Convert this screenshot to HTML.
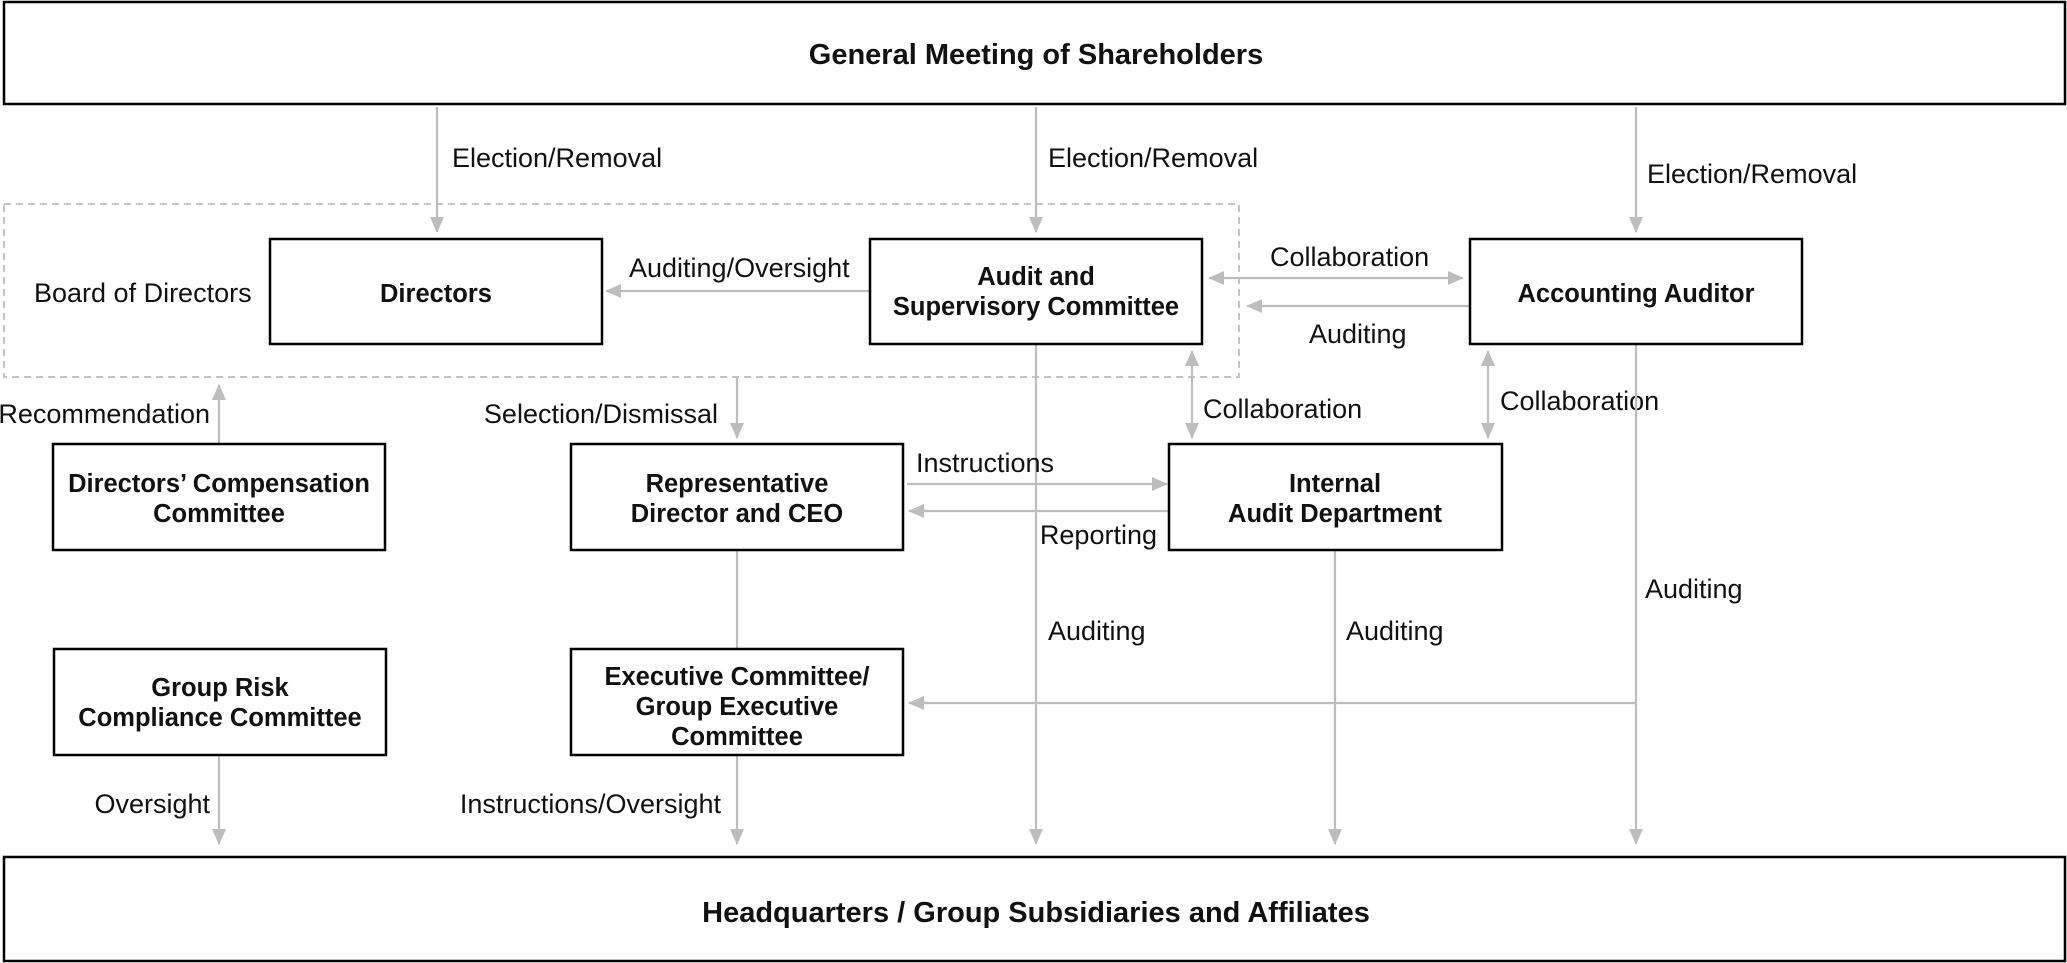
<!DOCTYPE html>
<html><head><meta charset="utf-8"><style>
html,body{margin:0;padding:0;background:#fff;}
svg{display:block;}
text{font-family:"Liberation Sans",Arial,sans-serif;fill:#111;}
.l{font-size:27px;}
.b{font-size:25.5px;font-weight:bold;text-anchor:middle;}
.bb{font-size:29px;font-weight:bold;text-anchor:middle;}
.box{fill:#fff;stroke:#000;stroke-width:2.5;}
.ln{stroke:#bdbdbd;stroke-width:2.2;fill:none;}
</style></head><body>
<svg width="2067" height="963" viewBox="0 0 2067 963" xmlns="http://www.w3.org/2000/svg">
<defs>
<marker id="a" markerUnits="userSpaceOnUse" markerWidth="16" markerHeight="16" viewBox="0 0 16 16" refX="15" refY="8" orient="auto-start-reverse">
<path d="M0,1 L16,8 L0,15 Z" fill="#bdbdbd"/></marker>
</defs>
<rect class="box" x="4" y="2" width="2061" height="102"/>
<text class="bb" x="1036" y="64">General Meeting of Shareholders</text>
<rect class="box" x="4" y="857" width="2061" height="104"/>
<text class="bb" x="1036" y="922">Headquarters / Group Subsidiaries and Affiliates</text>
<rect x="4" y="204" width="1235" height="173" fill="none" stroke="#c4c4c4" stroke-width="2" stroke-dasharray="7,5"/>
<text class="l" x="34" y="302">Board of Directors</text>
<line class="ln" x1="437" y1="107" x2="437" y2="232" marker-end="url(#a)"/>
<text class="l" x="452" y="167">Election/Removal</text>
<line class="ln" x1="1036" y1="107" x2="1036" y2="232" marker-end="url(#a)"/>
<text class="l" x="1048" y="167">Election/Removal</text>
<line class="ln" x1="1636" y1="107" x2="1636" y2="232" marker-end="url(#a)"/>
<text class="l" x="1647" y="183">Election/Removal</text>
<line class="ln" x1="870" y1="291" x2="606" y2="291" marker-end="url(#a)"/>
<text class="l" x="629" y="277">Auditing/Oversight</text>
<line class="ln" x1="1209" y1="278" x2="1463" y2="278" marker-start="url(#a)" marker-end="url(#a)"/>
<text class="l" x="1270" y="266">Collaboration</text>
<line class="ln" x1="1470" y1="306" x2="1247" y2="306" marker-end="url(#a)"/>
<text class="l" x="1309" y="343">Auditing</text>
<line class="ln" x1="1036" y1="344" x2="1036" y2="844" marker-end="url(#a)"/>
<text class="l" x="1048" y="640">Auditing</text>
<line class="ln" x1="1192" y1="351" x2="1192" y2="438" marker-start="url(#a)" marker-end="url(#a)"/>
<text class="l" x="1203" y="418">Collaboration</text>
<line class="ln" x1="1488" y1="351" x2="1488" y2="438" marker-start="url(#a)" marker-end="url(#a)"/>
<text class="l" x="1500" y="410">Collaboration</text>
<line class="ln" x1="1636" y1="344" x2="1636" y2="844" marker-end="url(#a)"/>
<text class="l" x="1645" y="598">Auditing</text>
<line class="ln" x1="1636" y1="703" x2="909" y2="703" marker-end="url(#a)"/>
<line class="ln" x1="1335" y1="550" x2="1335" y2="844" marker-end="url(#a)"/>
<text class="l" x="1346" y="640">Auditing</text>
<line class="ln" x1="907" y1="484" x2="1167" y2="484" marker-end="url(#a)"/>
<text class="l" x="916" y="472">Instructions</text>
<line class="ln" x1="1169" y1="511" x2="909" y2="511" marker-end="url(#a)"/>
<text class="l" x="1157" y="544" text-anchor="end">Reporting</text>
<line class="ln" x1="737" y1="377" x2="737" y2="438" marker-end="url(#a)"/>
<text class="l" x="718" y="423" text-anchor="end">Selection/Dismissal</text>
<line class="ln" x1="737" y1="550" x2="737" y2="649"/>
<line class="ln" x1="737" y1="755" x2="737" y2="844" marker-end="url(#a)"/>
<text class="l" x="721" y="813" text-anchor="end">Instructions/Oversight</text>
<line class="ln" x1="219" y1="444" x2="219" y2="385" marker-end="url(#a)"/>
<text class="l" x="210" y="423" text-anchor="end">Recommendation</text>
<line class="ln" x1="219" y1="755" x2="219" y2="844" marker-end="url(#a)"/>
<text class="l" x="210" y="813" text-anchor="end">Oversight</text>
<rect class="box" x="270" y="239" width="332" height="105"/>
<text class="b" x="436" y="302">Directors</text>
<rect class="box" x="870" y="239" width="332" height="105"/>
<text class="b" x="1036" y="285">Audit and</text>
<text class="b" x="1036" y="315">Supervisory Committee</text>
<rect class="box" x="1470" y="239" width="332" height="105"/>
<text class="b" x="1636" y="302">Accounting Auditor</text>
<rect class="box" x="53" y="444" width="332" height="106"/>
<text class="b" x="219" y="492">Directors’ Compensation</text>
<text class="b" x="219" y="522">Committee</text>
<rect class="box" x="571" y="444" width="332" height="106"/>
<text class="b" x="737" y="492">Representative</text>
<text class="b" x="737" y="522">Director and CEO</text>
<rect class="box" x="1169" y="444" width="333" height="106"/>
<text class="b" x="1335" y="492">Internal</text>
<text class="b" x="1335" y="522">Audit Department</text>
<rect class="box" x="54" y="649" width="332" height="106"/>
<text class="b" x="220" y="696">Group Risk</text>
<text class="b" x="220" y="726">Compliance Committee</text>
<rect class="box" x="571" y="649" width="332" height="106"/>
<text class="b" x="737" y="685">Executive Committee/</text>
<text class="b" x="737" y="715">Group Executive</text>
<text class="b" x="737" y="745">Committee</text>
</svg>
</body></html>
